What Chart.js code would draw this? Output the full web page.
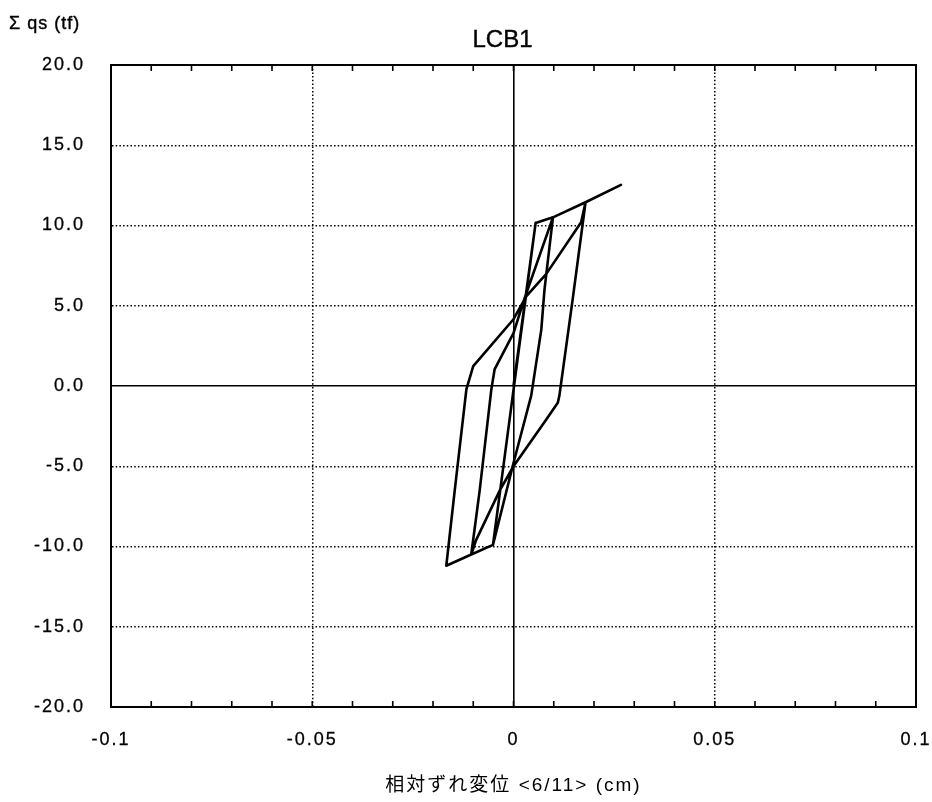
<!DOCTYPE html>
<html lang="ja">
<head>
  <meta charset="UTF-8" />
  <title>LCB1</title>
  <script src="https://cdn.jsdelivr.net/npm/chart.js"></script>
  <style>
    * { margin: 0; padding: 0; box-sizing: border-box; }
    body { background: #fff; width: 932px; height: 802px; overflow: hidden; }
    #wrap { position: relative; width: 932px; height: 802px; }
  </style>
</head>
<body>
<div id="wrap"><canvas id="loopChart"></canvas></div>
<script>
// Load-displacement history, in test order (cm / tf)
const disp = [0.0000, 0.0055, -0.0051, 0.0055, 0.0098, 0.0077, 0.0069, 0.0044, 0.0000, -0.0051,
              -0.0105, -0.0084, -0.0055, -0.0047, 0.0000, 0.0028, 0.0098, 0.0179, 0.0147, 0.0114,
              0.0110, 0.0081, 0.0000, -0.0034, -0.0093, -0.0105, -0.0167, -0.0146, -0.0117, -0.0100,
              0.0000, 0.0032, 0.0081, 0.0168, 0.0179, 0.0267];
const load = [0.0, 10.16, -9.9, 10.16, 10.51, 6.0, 3.5, -0.6, -4.8, -9.9,
              -10.5, -6.5, -0.2, 1.03, 3.3, 5.5, 10.51, 11.45, 5.4, -0.6,
              -1.05, -2.1, -5.0, -6.5, -9.6, -10.5, -11.2, -6.5, -0.2, 1.24,
              4.16, 5.6, 6.97, 10.2, 11.45, 12.53];

const xTickLabels = ['-0.1', '-0.05', '0', '0.05', '0.1'];
const yTickLabels = ['-20.0', '-15.0', '-10.0', '-5.0', '0.0', '5.0', '10.0', '15.0', '20.0'];
const minorX = [-0.09, -0.08, -0.07, -0.06, -0.05, -0.04, -0.03, -0.02, -0.01, 0,
                0.01, 0.02, 0.03, 0.04, 0.05, 0.06, 0.07, 0.08, 0.09];

const FONT = '"Liberation Sans", Arial, "Noto Sans CJK JP", sans-serif';
const dotted = [1.5, 2.2];

// frame, inward minor ticks on top/bottom, chart caption and vertical axis caption
const decorations = {
  id: 'decorations',
  beforeUpdate(chart) { chart.ctx.letterSpacing = '2px'; },
  beforeDraw(chart) { chart.ctx.letterSpacing = '2px'; },
  beforeDatasetsDraw(chart) {
    const { ctx, chartArea: a, scales: { x } } = chart;
    ctx.save();
    ctx.strokeStyle = '#000';
    ctx.lineWidth = 1.6;
    ctx.beginPath();
    minorX.forEach(v => {
      const px = x.getPixelForValue(v);
      ctx.moveTo(px, a.bottom); ctx.lineTo(px, a.bottom - 6);
      ctx.moveTo(px, a.top); ctx.lineTo(px, a.top + 6);
    });
    ctx.stroke();
    ctx.lineWidth = 2;
    ctx.strokeRect(a.left, a.top, a.right - a.left, a.bottom - a.top);
    ctx.restore();
  },
  afterDraw(chart) {
    const { ctx, chartArea: a } = chart;
    ctx.save();
    ctx.fillStyle = '#000';
    ctx.strokeStyle = '#000';
    ctx.lineWidth = 0.4;
    ctx.letterSpacing = '0px';
    ctx.font = '24px ' + FONT;
    ctx.textAlign = 'center';
    ctx.textBaseline = 'middle';
    const tx = (a.left + a.right) / 2 - 11;
    ctx.fillText('LCB1', tx, 40);
    ctx.strokeText('LCB1', tx, 40);
    ctx.letterSpacing = '1px';
    ctx.font = '18px ' + FONT;
    ctx.textAlign = 'left';
    ctx.textBaseline = 'alphabetic';
    ctx.fillText('Σ qs (tf)', 9, 29);
    ctx.strokeText('Σ qs (tf)', 9, 29);
    ctx.restore();
  }
};

// keep the plot frame fixed: no extra room for overhanging end labels
function noOverhang(s) {
  s.paddingLeft = 0;
  s.paddingRight = 0;
  s.paddingTop = 0;
  s.paddingBottom = 0;
}

const points = disp.map((d, i) => ({ x: d, y: load[i] }));

new Chart(document.getElementById('loopChart'), {
  type: 'scatter',
  data: {
    datasets: [{
      data: points,
      showLine: true,
      borderColor: '#000',
      borderWidth: 2.6,
      pointRadius: 0,
      tension: 0,
      borderJoinStyle: 'round',
      borderCapStyle: 'round'
    }]
  },
  options: {
    responsive: true,
    maintainAspectRatio: false,
    animation: false,
    layout: { autoPadding: false, padding: { left: 0, right: 16, top: 65, bottom: 0 } },
    plugins: {
      legend: { display: false },
      tooltip: { enabled: false },
      title: { display: false }
    },
    scales: {
      x: {
        type: 'linear',
        min: -0.1,
        max: 0.1,
        afterFit: s => { s.height = 95; noOverhang(s); },
        ticks: {
          stepSize: 0.05,
          color: '#000',
          padding: 22,
          maxRotation: 0,
          textStrokeColor: '#000',
          textStrokeWidth: 0.3,
          font: { family: FONT, size: 18 },
          callback: (v, i) => xTickLabels[i]
        },
        grid: {
          color: '#000',
          lineWidth: c => Math.abs(c.tick.value) < 1e-9 ? 1.6 : 1.5,
          drawTicks: false
        },
        border: {
          display: true,
          color: '#000',
          width: 2,
          dash: c => (c.tick && Math.abs(c.tick.value) < 1e-9) ? [] : dotted
        },
        title: {
          display: true,
          text: '相対ずれ変位 <6/11> (cm)',
          color: '#000',
          font: { family: FONT, size: 19 },
          padding: { top: 4, bottom: 5 }
        }
      },
      y: {
        type: 'linear',
        min: -20,
        max: 20,
        afterFit: s => { s.width = 111; noOverhang(s); },
        ticks: {
          stepSize: 5,
          color: '#000',
          padding: 26,
          textStrokeColor: '#000',
          textStrokeWidth: 0.3,
          font: { family: FONT, size: 18 },
          callback: (v, i) => yTickLabels[i]
        },
        grid: {
          color: '#000',
          lineWidth: c => Math.abs(c.tick.value) < 1e-9 ? 1.6 : 1.5,
          drawTicks: false
        },
        border: {
          display: true,
          color: '#000',
          width: 2,
          dash: c => (c.tick && Math.abs(c.tick.value) < 1e-9) ? [] : dotted
        }
      }
    }
  },
  plugins: [decorations]
});
</script>
</body>
</html>
